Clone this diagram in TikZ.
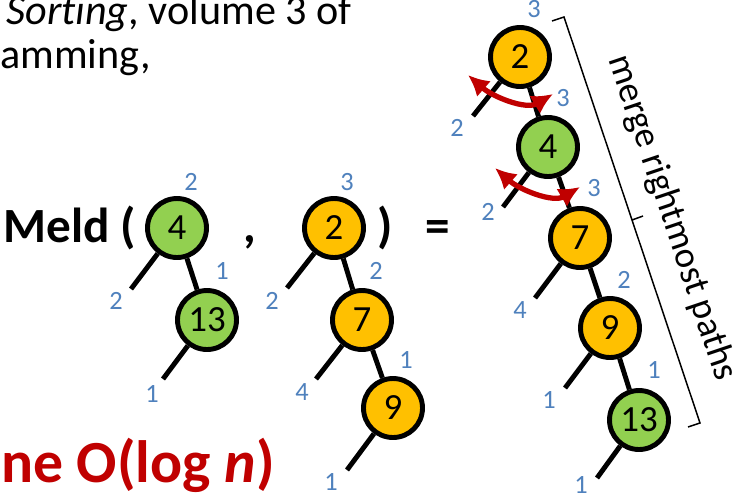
\documentclass[tikz,border=0pt]{standalone}
\usepackage{fontspec}
\setmainfont{Carlito}[Ligatures=NoCommon]
\usetikzlibrary{arrows.meta}
\definecolor{LeafGreen}{HTML}{92D050}
\definecolor{Amber}{HTML}{FFC000}
\definecolor{RankBlue}{HTML}{4F81BD}
\definecolor{DarkRed}{HTML}{C00000}
\tikzset{
 heapnode/.style={circle, draw=black, line width=2.8pt, minimum size=1.18cm, inner sep=0pt, font=\fontsize{21}{25}\selectfont},
 greennode/.style={heapnode, fill=LeafGreen},
 ambernode/.style={heapnode, fill=Amber},
 rank/.style={text=RankBlue, inner sep=0pt, font=\fontsize{15}{17}\selectfont},
 edge/.style={line width=2.8pt, draw=black},
 swaparrow/.style={{Latex[length=0.42cm,width=0.42cm]}-{Latex[length=0.42cm,width=0.42cm]}, line width=3pt, draw=DarkRed},
 plaintext/.style={anchor=base west, inner sep=0pt, font=\fontsize{24}{28}\selectfont},
 meldtext/.style={anchor=base west, inner sep=0pt, font=\bfseries\fontsize{28}{32}\selectfont}
}

\begin{document}
\begin{tikzpicture}[x=0.02cm, y=-0.02cm]
\useasboundingbox (0,0) rectangle (750,498);
\fill[white] (0,0) rectangle (750,498);
\clip (0,0) rectangle (750,498);

% text around the formula
\node[plaintext] (ref1) at (6,24) {\textit{Sorting}, volume 3 of};
\node[plaintext] (ref2) at (0,68) {amming,};
\node[meldtext] (meld) at (3,242) {Meld (};
\node[meldtext] (comma) at (243,242) {,};
\node[meldtext] (close) at (377,242) {)};
\node[meldtext] (equals) at (425,242) {=};
\node[anchor=base east, inner sep=0pt, text=DarkRed, font=\bfseries\fontsize{34}{40}\selectfont] (cost) at (275,482) {ne O(log \textit{n})};

% first heap
\node[greennode] (a4) at (177,228) {4};
\node[greennode] (a13) at (207,320) {13};
\coordinate (a4s) at (131,289);
\coordinate (a13s) at (163,379);
\draw[edge] (a4) -- (a13);
\draw[edge] (a4) -- (a4s);
\draw[edge] (a13) -- (a13s);
\node[rank] at (191,182) {2};
\node[rank] at (222,271) {1};
\node[rank] at (116,301) {2};
\node[rank] at (152,394) {1};

% second heap
\node[ambernode] (b2) at (334,228) {2};
\node[ambernode] (b7) at (362,320) {7};
\node[ambernode] (b9) at (393,408) {9};
\coordinate (b2s) at (287,288);
\coordinate (b7s) at (316,379);
\coordinate (b9s) at (347,470);
\draw[edge] (b2) -- (b7);
\draw[edge] (b7) -- (b9);
\draw[edge] (b2) -- (b2s);
\draw[edge] (b7) -- (b7s);
\draw[edge] (b9) -- (b9s);
\node[rank] at (347,182) {3};
\node[rank] at (376,271) {2};
\node[rank] at (272,301) {2};
\node[rank] at (302,392) {4};
\node[rank] at (406,360) {1};
\node[rank] at (331,482) {1};

% result
\node[ambernode] (c2) at (520,57) {2};
\node[greennode] (c4) at (548,147) {4};
\node[ambernode] (c7) at (580,238) {7};
\node[ambernode] (c9) at (610,328) {9};
\node[greennode] (c13) at (639,420) {13};
\coordinate (c2s) at (473,116);
\coordinate (c4s) at (503,207);
\coordinate (c7s) at (535,298);
\coordinate (c9s) at (565,388);
\coordinate (c13s) at (597,478);
\draw[edge] (c2) -- (c4);
\draw[edge] (c4) -- (c7);
\draw[edge] (c7) -- (c9);
\draw[edge] (c9) -- (c13);
\foreach \n in {c2,c4,c7,c9,c13} \draw[edge] (\n) -- (\n s);
\node[rank] at (534,9) {3};
\node[rank] at (563,98) {3};
\node[rank] at (457,128) {2};
\node[rank] at (594,188) {3};
\node[rank] at (488,212) {2};
\node[rank] at (624,280) {2};
\node[rank] at (520,310) {4};
\node[rank] at (654,370) {1};
\node[rank] at (549,400) {1};
\node[rank] at (581,485) {1};

% swaps
\coordinate (s1a) at (468,75);
\coordinate (s1b) at (553,94);
\coordinate (s2a) at (495,168);
\coordinate (s2b) at (580,187);
\draw[swaparrow] (s1a) .. controls (493,97) and (526,110) .. (s1b);
\draw[swaparrow] (s2a) .. controls (520,190) and (553,203) .. (s2b);

% bracket
\draw[line width=0.85pt] (552,21) -- (564,17) -- (632,220) -- (643,216) (632,220) -- (700,423) -- (688,427);
\node[rotate=-71.4, font=\fontsize{21}{25}\selectfont] (merge) at (672,218) {merge rightmost paths};
\end{tikzpicture}
\end{document}
